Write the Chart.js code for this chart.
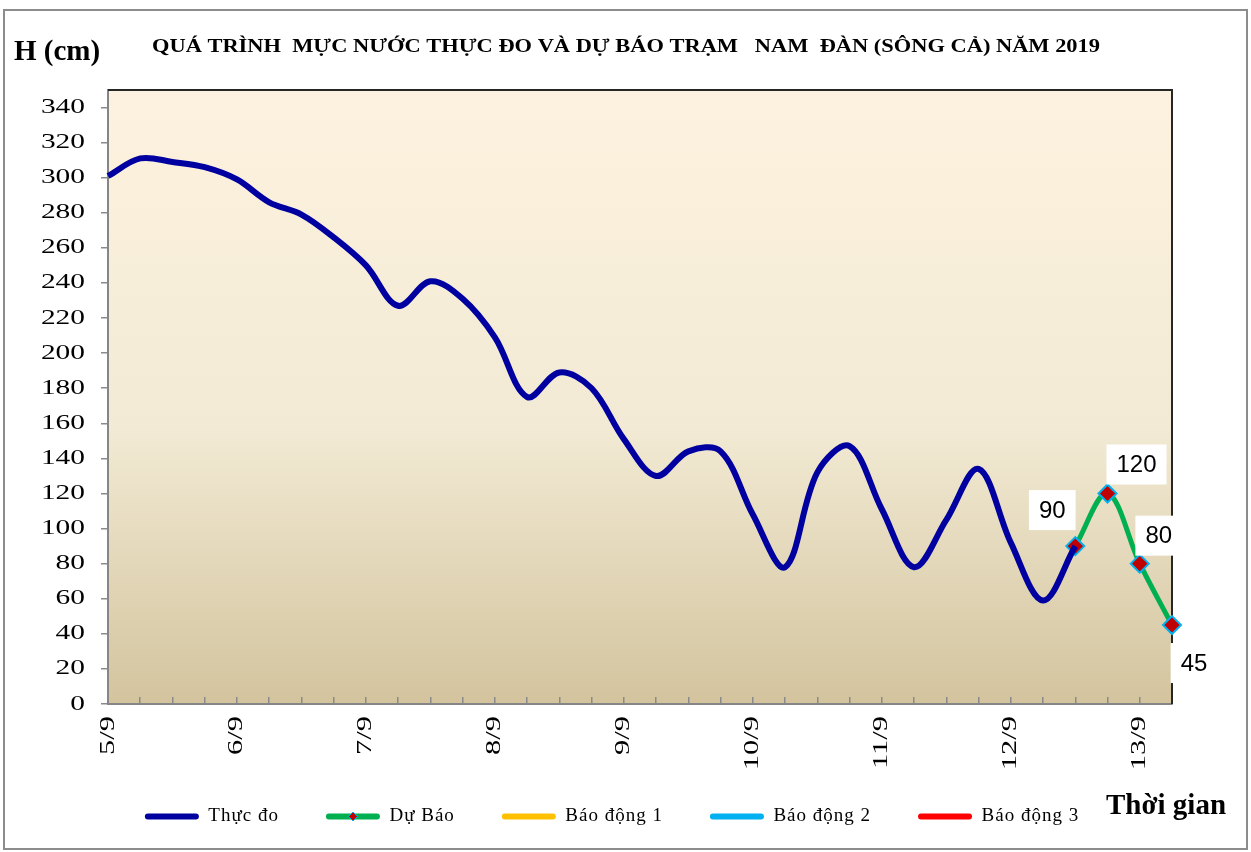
<!DOCTYPE html>
<html>
<head>
<meta charset="utf-8">
<script src="https://cdn.jsdelivr.net/npm/chart.js@4.4.1/dist/chart.umd.min.js"></script>
<style>
html,body{margin:0;padding:0;background:#fff;}
#wrap{width:1251px;height:852px;position:relative;}
</style>
</head>
<body>
<div id="wrap"><canvas id="c" width="1251" height="852"></canvas></div>
<script>
// ---- data ----
const categories = [
  '5/9','','','',
  '6/9','','','',
  '7/9','','','',
  '8/9','','','',
  '9/9','','','',
  '10/9','','','',
  '11/9','','','',
  '12/9','','','',
  '13/9',''
];
const observed = [301,311,309,306,299,286,279,266,250,227,241,231,209,175,189,180,151,130,144,144,108,78,132,147,111,78,105,134,92,59,90,null,null,null];
const forecast = [null,null,null,null,null,null,null,null,null,null,null,null,null,null,null,null,null,null,null,null,null,null,null,null,null,null,null,null,null,null,90,120,80,45];
const alarm1 = [];
const alarm2 = [];
const alarm3 = [];
const yTickValues = [0,20,40,60,80,100,120,140,160,180,200,220,240,260,280,300,320,340];
const seriesNames = ['Thực đo','Dự Báo','Báo động 1','Báo động 2','Báo động 3'];
const titleText = 'QUÁ TRÌNH  MỰC NƯỚC THỰC ĐO VÀ DỰ BÁO TRẠM   NAM  ĐÀN (SÔNG CẢ) NĂM 2019';
const yTitle = 'H (cm)';
const xTitle = 'Thời gian';

// label placement offsets for forecast values (style, not data)
const forecastLabelOffsets = [[-23,-36],[29,-29],[19,-28],[22,38]];

const SERIF = '"Liberation Serif", "Times New Roman", serif';
const SANS = '"Liberation Sans", Arial, sans-serif';

const Y_TICK_LEN = 7, Y_TICK_PAD = 16, X_TICK_LEN = -7, X_TICK_PAD = 19;

function withSpacing(obj, method, spacing) {
  const orig = obj[method];
  obj[method] = function (...args) {
    const ctx = this.ctx;
    const prev = ctx.letterSpacing;
    ctx.letterSpacing = spacing;
    try { return orig.apply(this, args); } finally { ctx.letterSpacing = prev || '0px'; }
  };
}
function stretchLabels(scale, sx, sy, anchorFn) {
  const orig = scale.drawLabels;
  scale._computeLabelArea = () => undefined;
  scale.drawLabels = function (area) {
    const ctx = this.ctx;
    const [ax, ay] = anchorFn(this);
    ctx.save();
    ctx.translate(ax, ay);
    ctx.scale(sx, sy);
    ctx.translate(-ax, -ay);
    orig.call(this, area);
    ctx.restore();
  };
}

const decorPlugin = {
  id: 'decor',
  beforeUpdate(chart) {
    if (chart.$patched) return;
    chart.$patched = true;
    if (chart.scales.y) stretchLabels(chart.scales.y, 1.4, 1, s => [s.right - Y_TICK_LEN - Y_TICK_PAD, 0]);
    if (chart.scales.x) stretchLabels(chart.scales.x, 1, 1.45, s => [0, s.top + X_TICK_LEN + X_TICK_PAD]);
    if (chart.legend) { withSpacing(chart.legend, 'fit', '1px'); withSpacing(chart.legend, 'draw', '1px'); withSpacing(chart.legend, 'adjustHitBoxes', '1px'); }
  },
  beforeDraw(chart) {
    const ctx = chart.ctx;
    const a = chart.chartArea;
    ctx.save();
    ctx.fillStyle = '#ffffff';
    ctx.fillRect(0, 0, chart.width, chart.height);
    ctx.strokeStyle = '#8c8c8c';
    ctx.lineWidth = 2;
    ctx.strokeRect(4, 10, chart.width - 8, chart.height - 13);
    const g = ctx.createLinearGradient(0, a.top, 0, a.bottom);
    g.addColorStop(0, '#FDF2DF');
    g.addColorStop(0.55, '#F2EAD4');
    g.addColorStop(1, '#D3C49E');
    ctx.fillStyle = g;
    ctx.fillRect(a.left, a.top, a.right - a.left, a.bottom - a.top);
    ctx.restore();
  },
  beforeDatasetsDraw(chart) {
    const ctx = chart.ctx;
    const a = chart.chartArea;
    ctx.save();
    ctx.strokeStyle = '#262626';
    ctx.lineWidth = 2;
    ctx.beginPath();
    ctx.moveTo(a.left, a.top);
    ctx.lineTo(a.right, a.top);
    ctx.lineTo(a.right, a.bottom);
    ctx.stroke();
    ctx.restore();
  },
  afterDatasetsDraw(chart) {
    const ctx = chart.ctx;
    const meta = chart.getDatasetMeta(1);
    const ds = chart.data.datasets[1];
    ctx.save();
    ctx.font = '24px ' + SANS;
    ctx.textAlign = 'center';
    ctx.textBaseline = 'middle';
    let k = 0;
    meta.data.forEach((pt, i) => {
      const v = ds.data[i];
      if (v === null || v === undefined) return;
      const off = forecastLabelOffsets[k++] || [0, -30];
      const cx = pt.x + off[0];
      const cy = pt.y + off[1];
      const txt = String(v);
      const w = ctx.measureText(txt).width + 20;
      const h = 40;
      ctx.fillStyle = '#ffffff';
      ctx.fillRect(cx - w / 2, cy - h / 2, w, h);
      ctx.fillStyle = '#000000';
      ctx.fillText(txt, cx, cy + 1);
    });
    ctx.restore();
  },
  afterDraw(chart) {
    const ctx = chart.ctx;
    ctx.save();
    // legend marker for forecast
    const lg = chart.legend;
    if (lg && lg.legendHitBoxes && lg.legendHitBoxes[1]) {
      const hb = lg.legendHitBoxes[1];
      const bw = lg.options.labels.boxWidth;
      const x = hb.left + bw / 2;
      const y = hb.top + hb.height / 2;
      const r = 4.5;
      ctx.beginPath();
      ctx.moveTo(x, y - r); ctx.lineTo(x + r, y); ctx.lineTo(x, y + r); ctx.lineTo(x - r, y); ctx.closePath();
      ctx.fillStyle = '#C00000';
      ctx.fill();
      ctx.strokeStyle = '#00B0F0';
      ctx.lineWidth = 1;
      ctx.stroke();
    }
    ctx.fillStyle = '#000';
    ctx.textBaseline = 'alphabetic';
    ctx.textAlign = 'left';
    // title
    ctx.font = 'bold 19px ' + SERIF;
    const tw = ctx.measureText(titleText).width;
    ctx.save();
    ctx.translate(152, 52);
    ctx.scale(948 / tw, 1);
    ctx.fillText(titleText, 0, 0);
    ctx.restore();
    // y title
    ctx.font = 'bold 29px ' + SERIF;
    ctx.fillText(yTitle, 14, 60);
    // x title
    ctx.font = 'bold 29px ' + SERIF;
    ctx.fillText(xTitle, 1106, 814);
    ctx.restore();
  },
  afterLayout(chart) {
    const lg = chart.legend;
    if (lg) { lg.left += 22; lg.right += 22; }
  }
};

new Chart(document.getElementById('c'), {
  type: 'line',
  data: {
    labels: categories,
    datasets: [
      { label: seriesNames[0], data: observed, borderColor: '#0000A0', backgroundColor: '#0000A0', borderWidth: 6, pointRadius: 0, tension: 0.35, spanGaps: false },
      { label: seriesNames[1], data: forecast, borderColor: '#00B050', backgroundColor: '#00B050', borderWidth: 5, tension: 0.35,
        pointStyle: 'rectRot', pointRadius: 9, pointBackgroundColor: '#C00000', pointBorderColor: '#00B0F0', pointBorderWidth: 2, clip: false },
      { label: seriesNames[2], data: alarm1, borderColor: '#FFC000', backgroundColor: '#FFC000', borderWidth: 5, pointRadius: 0 },
      { label: seriesNames[3], data: alarm2, borderColor: '#00B0F0', backgroundColor: '#00B0F0', borderWidth: 5, pointRadius: 0 },
      { label: seriesNames[4], data: alarm3, borderColor: '#FF0000', backgroundColor: '#FF0000', borderWidth: 5, pointRadius: 0 }
    ]
  },
  options: {
    responsive: false,
    devicePixelRatio: 1,
    animation: false,
    layout: { padding: { top: 90, left: 8, right: 79, bottom: 16 } },
    plugins: {
      tooltip: { enabled: false },
      title: { display: false },
      legend: {
        display: true,
        position: 'bottom',
        labels: {
          boxWidth: 54,
          boxHeight: 6,
          padding: 47,
          color: '#000',
          font: { family: SERIF, size: 19 },
          generateLabels(chart) {
            return chart.data.datasets.map((ds, i) => ({
              text: ds.label,
              fillStyle: ds.borderColor,
              strokeStyle: ds.borderColor,
              lineWidth: 0,
              borderRadius: 3,
              hidden: false,
              datasetIndex: i,
              fontColor: '#000'
            }));
          }
        }
      }
    },
    scales: {
      x: {
        type: 'category',
        offset: false,
        grid: { display: true, drawOnChartArea: false, drawTicks: true, tickLength: X_TICK_LEN, color: '#8a8a8a', lineWidth: 1.5 },
        border: { display: true, color: '#868686', width: 2 },
        ticks: {
          autoSkip: false, maxRotation: 90, minRotation: 90, padding: X_TICK_PAD,
          color: '#000', font: { family: SERIF, size: 21 },
          callback: (v, i) => categories[i]
        },
        afterFit: s => { s.height = 56; }
      },
      y: {
        min: 0, max: 350,
        ticks: { stepSize: 20, padding: Y_TICK_PAD, color: '#000', font: { family: SERIF, size: 21 } },
        afterBuildTicks: s => { s.ticks = yTickValues.map(v => ({ value: v })); },
        grid: { drawOnChartArea: false, tickLength: Y_TICK_LEN, color: '#8a8a8a', lineWidth: 1.5 },
        border: { display: true, color: '#868686', width: 2 },
        afterFit: s => { s.width = 100; }
      }
    }
  },
  plugins: [decorPlugin]
});
</script>
</body>
</html>
